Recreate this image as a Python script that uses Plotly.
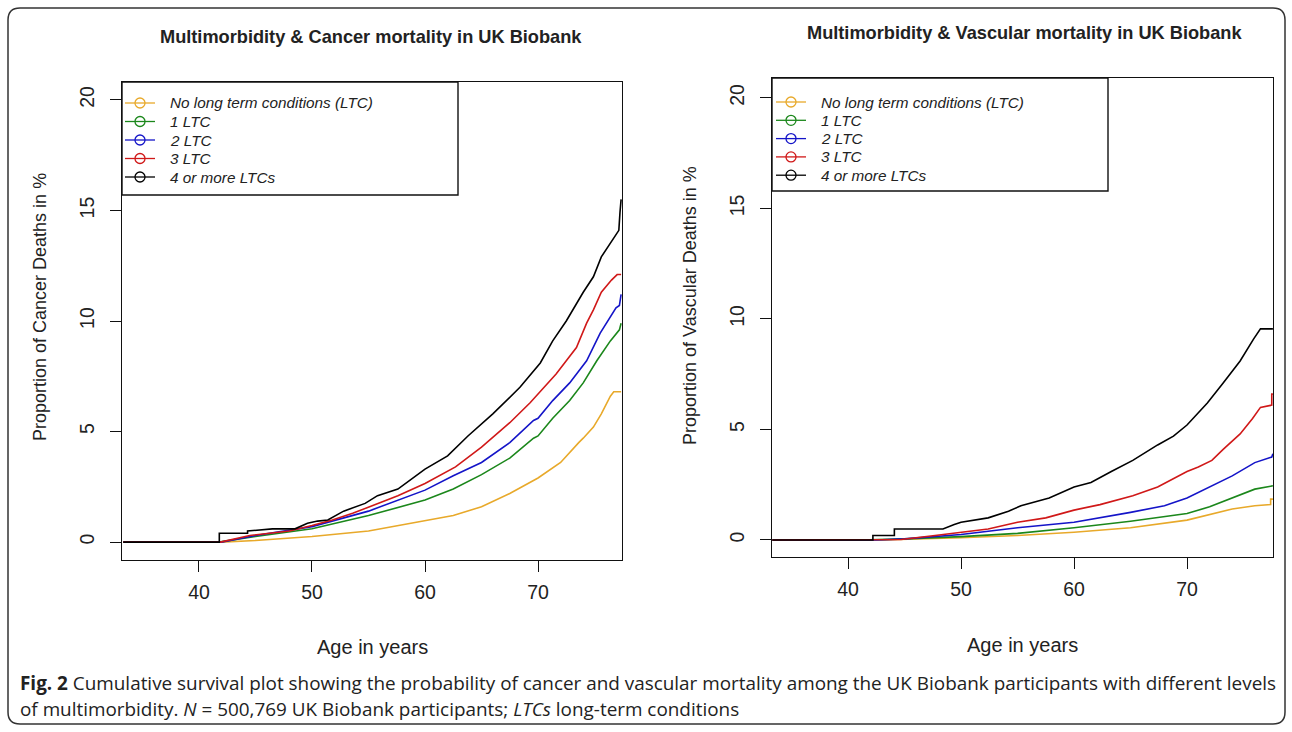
import plotly.graph_objects as go

W, H = 1292, 732

# ---------------- data ----------------
series_names = ["No long term conditions (LTC)", "1 LTC", "2 LTC", "3 LTC", "4 or more LTCs"]
series_colors = ["#E8A92A", "#1B871B", "#1414C8", "#D01818", "#000000"]

# Cancer mortality (left panel)
cancer_age_0 = [33.3, 42.0, 45, 50, 55, 60, 62.5, 65, 67.5, 70, 72, 73.6, 74.0, 74.9, 75.6, 76.4, 76.7, 77.35]
cancer_val_0 = [0, 0, 0.07, 0.25, 0.5, 0.95, 1.2, 1.6, 2.2, 2.9, 3.6, 4.5, 4.7, 5.2, 5.8, 6.6, 6.8, 6.8]

cancer_age_1 = [33.3, 41.0, 42, 45, 50, 55, 60, 62.5, 65, 67.5, 69.6, 70, 71.3, 72.8, 74.0, 75.2, 76.4, 77.2, 77.35]
cancer_val_1 = [0, 0, 0.02, 0.25, 0.6, 1.2, 1.9, 2.4, 3.05, 3.8, 4.7, 4.8, 5.6, 6.4, 7.2, 8.2, 9.1, 9.6, 9.9]

cancer_age_2 = [33.3, 42.0, 45, 50, 55, 60, 62.5, 65, 67.5, 69.6, 70, 71.3, 72.8, 74.3, 75.5, 76.4, 76.9, 77.2, 77.35]
cancer_val_2 = [0, 0, 0.3, 0.7, 1.4, 2.35, 3.0, 3.6, 4.5, 5.5, 5.6, 6.4, 7.2, 8.2, 9.45, 10.2, 10.6, 10.7, 11.2]

cancer_age_3 = [33.3, 41.9, 44.5, 48, 50, 51.8, 53.6, 55.4, 57.6, 60, 62.7, 65, 67.5, 69.3, 70.5, 71.6, 72.5,
                73.4, 74.3, 74.9, 75.6, 76.5, 77.0, 77.35]
cancer_val_3 = [0, 0, 0.3, 0.5, 0.75, 1.0, 1.3, 1.65, 2.1, 2.65, 3.4, 4.3, 5.4, 6.3, 7.0, 7.6, 8.2,
                8.8, 9.9, 10.5, 11.3, 11.85, 12.1, 12.1]

cancer_age_4 = [33.3, 41.8, 41.8, 44.3, 44.3, 46.5, 48.5, 49.6, 50.5, 51.4, 52.8, 54.7, 55.8, 57.6, 60, 62,
                63.8, 66, 68.4, 70.2, 71.3, 72.5, 74.0, 74.9, 75.6, 76.5, 76.9, 77.15, 77.25, 77.35]
cancer_val_4 = [0, 0, 0.4, 0.4, 0.5, 0.6, 0.6, 0.85, 0.95, 1.0, 1.4, 1.75, 2.1, 2.4, 3.3, 3.9,
                4.8, 5.8, 7.0, 8.1, 9.1, 10.0, 11.3, 12.0, 12.9, 13.6, 13.9, 14.1, 14.9, 15.5]

# Vascular mortality (right panel)
vasc_age_0 = [33.3, 43, 50, 55, 60, 65, 70, 72, 74, 76, 77.4, 77.4, 77.6]
vasc_val_0 = [0, 0, 0.1, 0.2, 0.35, 0.55, 0.9, 1.15, 1.4, 1.55, 1.6, 1.85, 1.85]

vasc_age_1 = [33.3, 41.1, 45, 50, 55, 60, 65, 70, 72, 74, 76, 77.6]
vasc_val_1 = [0, 0, 0.05, 0.15, 0.3, 0.55, 0.85, 1.2, 1.5, 1.9, 2.3, 2.45]

vasc_age_2 = [33.3, 42.5, 45, 50, 55, 60, 65, 68, 70, 72, 74, 76, 77.5, 77.6]
vasc_val_2 = [0, 0, 0.05, 0.25, 0.55, 0.8, 1.25, 1.55, 1.9, 2.4, 2.9, 3.5, 3.75, 3.9]

vasc_age_3 = [33.3, 42.4, 44.7, 47.7, 50, 52.4, 55, 57.5, 60, 62.3, 65.2, 67.4, 70, 71, 72.2, 73.2, 74.7,
              75.8, 76.5, 77.5, 77.5, 77.6]
vasc_val_3 = [0, 0, 0.02, 0.2, 0.35, 0.5, 0.8, 1.0, 1.35, 1.6, 2.0, 2.4, 3.1, 3.3, 3.6, 4.1, 4.8,
              5.5, 6.0, 6.1, 6.6, 6.6]

vasc_age_4 = [33.3, 42.2, 42.2, 44.1, 44.1, 48.4, 49.4, 50, 52.4, 54.2, 55.3, 57.8, 60, 61.5, 63.3, 65.2,
              67.4, 68.8, 70, 71.8, 73.2, 74.7, 75.9, 76.5, 77.6]
vasc_val_4 = [0, 0, 0.2, 0.2, 0.5, 0.5, 0.7, 0.8, 1.0, 1.3, 1.55, 1.9, 2.4, 2.6, 3.1, 3.6,
              4.3, 4.7, 5.2, 6.2, 7.1, 8.1, 9.1, 9.55, 9.55]

x_ticks = [40, 50, 60, 70]
y_ticks = [0, 5, 10, 15, 20]

cancer_ages = [cancer_age_0, cancer_age_1, cancer_age_2, cancer_age_3, cancer_age_4]
cancer_vals = [cancer_val_0, cancer_val_1, cancer_val_2, cancer_val_3, cancer_val_4]
vasc_ages = [vasc_age_0, vasc_age_1, vasc_age_2, vasc_age_3, vasc_age_4]
vasc_vals = [vasc_val_0, vasc_val_1, vasc_val_2, vasc_val_3, vasc_val_4]


# ---------------- helpers (pixel -> paper) ----------------
def px(x):
    return x / W


def py(y):
    return 1 - y / H


FONT = "Liberation Sans, Arial, sans-serif"

fig = go.Figure()

for i in range(5):
    fig.add_trace(go.Scatter(x=cancer_ages[i], y=cancer_vals[i], mode="lines", name=series_names[i],
                             line=dict(color=series_colors[i], width=1.6),
                             xaxis="x", yaxis="y", showlegend=False, hoverinfo="skip"))
    fig.add_trace(go.Scatter(x=vasc_ages[i], y=vasc_vals[i], mode="lines", name=series_names[i],
                             line=dict(color=series_colors[i], width=1.6),
                             xaxis="x2", yaxis="y2", showlegend=False, hoverinfo="skip"))

axis_common = dict(showgrid=False, zeroline=False, showline=True, mirror=True, linecolor="#111",
                   linewidth=1.4, ticks="outside", ticklen=11, tickwidth=1.3, tickcolor="#111",
                   tickfont=dict(family=FONT, size=19.5, color="#222"), automargin=False,
                   fixedrange=True)

fig.update_layout(
    width=W, height=H, margin=dict(l=0, r=0, t=0, b=0),
    paper_bgcolor="white", plot_bgcolor="white", showlegend=False,
    xaxis=dict(domain=[px(122), px(622)], range=[33.19, 77.43], tickvals=x_ticks, anchor="y",
               ticklabelstandoff=3, **axis_common),
    yaxis=dict(domain=[py(560), py(82)], range=[-0.81, 20.81], tickvals=y_ticks, anchor="x",
               tickangle=-90, ticklabelstandoff=8, **axis_common),
    xaxis2=dict(domain=[px(772), px(1273)], range=[33.27, 77.61], tickvals=x_ticks, anchor="y2",
                ticklabelstandoff=3, **axis_common),
    yaxis2=dict(domain=[py(557), py(78)], range=[-0.77, 20.9], tickvals=y_ticks, anchor="x2",
                tickangle=-90, ticklabelstandoff=8, **axis_common),
)


# ---------------- legends (R style: line through open circle) ----------------
def draw_legend(box_x0, box_x1, box_y0, box_y1, first_row_y, row_gap, key_x0):
    fig.add_shape(type="rect", xref="paper", yref="paper", x0=px(box_x0), x1=px(box_x1),
                  y0=py(box_y1), y1=py(box_y0), line=dict(color="#111", width=1.4))
    for i in range(5):
        yy = first_row_y + row_gap * i
        c = series_colors[i]
        fig.add_shape(type="line", xref="paper", yref="paper", x0=px(key_x0), x1=px(key_x0 + 30),
                      y0=py(yy), y1=py(yy), line=dict(color=c, width=1.3))
        fig.add_shape(type="circle", xref="paper", yref="paper", x0=px(key_x0 + 10), x1=px(key_x0 + 20),
                      y0=py(yy + 5), y1=py(yy - 5), line=dict(color=c, width=1.3))
        fig.add_annotation(text=f"<i>{series_names[i]}</i>", x=px(key_x0 + 43), y=py(yy),
                           xref="paper", yref="paper", xanchor="left", yanchor="middle",
                           showarrow=False, font=dict(family=FONT, size=15.3, color="#222"))


draw_legend(122, 458, 82, 195, 103, 18.5, 125)
draw_legend(772, 1108, 78, 191, 102, 18.3, 776)

# outer rounded frame
x0, x1, y0, y1, r = 8, 1285, 8, 724, 12
path = (f"M {px(x0 + r)} {py(y0)} L {px(x1 - r)} {py(y0)} Q {px(x1)} {py(y0)} {px(x1)} {py(y0 + r)} "
        f"L {px(x1)} {py(y1 - r)} Q {px(x1)} {py(y1)} {px(x1 - r)} {py(y1)} "
        f"L {px(x0 + r)} {py(y1)} Q {px(x0)} {py(y1)} {px(x0)} {py(y1 - r)} "
        f"L {px(x0)} {py(y0 + r)} Q {px(x0)} {py(y0)} {px(x0 + r)} {py(y0)} Z")
fig.add_shape(type="path", xref="paper", yref="paper", path=path, line=dict(color="#333", width=1.5))


def label(text, x, y, size, angle=0, xanchor="center", family=FONT):
    fig.add_annotation(text=text, x=px(x), y=py(y), xref="paper", yref="paper", xanchor=xanchor,
                       yanchor="middle", showarrow=False, textangle=angle,
                       font=dict(family=family, size=size, color="#222"))


# titles
label("<b>Multimorbidity & Cancer mortality in UK Biobank</b>", 371, 37, 18.2)
label("<b>Multimorbidity & Vascular mortality in UK Biobank</b>", 1024, 33, 18.2)

# axis titles
label("Age in years", 372, 647, 20)
label("Age in years", 1022, 645, 20)
label("Proportion of Cancer Deaths in %", 40, 307, 18, angle=-90)
label("Proportion of Vascular Deaths in %", 690, 305, 18, angle=-90)

# caption
CAP = "Open Sans, Liberation Sans, sans-serif"
label("<b>Fig. 2</b> Cumulative survival plot showing the probability of cancer and vascular "
      "mortality among the UK Biobank participants with different levels", 18, 683, 18.9,
      xanchor="left", family=CAP)
label("of multimorbidity. <i>N</i> = 500,769 UK Biobank participants; <i>LTCs</i> long-term conditions",
      18, 709, 18.9, xanchor="left", family=CAP)

fig.write_html("out.html", config={"displayModeBar": False},
               post_script="document.body.style.margin='0';document.body.style.overflow='hidden';")
